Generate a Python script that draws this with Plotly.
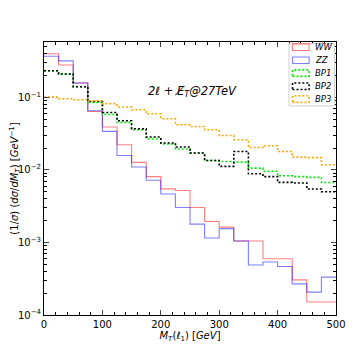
import plotly.graph_objects as go

# bin edges of M_T(l1) histograms [GeV]
bin_edges = [0, 25, 50, 75, 100, 125, 150, 175, 200, 225, 250,
             275, 300, 325, 350, 375, 400, 425, 450, 475, 500]

ww = [0.40, 0.28, 0.158, 0.064, 0.039, 0.0223, 0.0127, 0.0081, 0.00548, 0.00521,
      0.00304, 0.00195, 0.00163, 0.00105, 0.00105, 0.000596, 0.000596, 0.000305, 0.000151, 0.000151]
zz = [0.37, 0.319, 0.158, 0.0656, 0.034, 0.0158, 0.011, 0.0072, 0.00466, 0.00304,
      0.00179, 0.00115, 0.00155, 0.00105, 0.00049, 0.000537, 0.000467, 0.000269, 0.000207, 0.000333]
bp1 = [0.233, 0.21, 0.14, 0.085, 0.058, 0.0452, 0.0358, 0.0267, 0.0228, 0.0194,
       0.0171, 0.0135, 0.0131, 0.0128, 0.0106, 0.0096, 0.0083, 0.0081, 0.0079, 0.0067]
bp2 = [0.233, 0.21, 0.14, 0.088, 0.062, 0.0477, 0.037, 0.0284, 0.0235, 0.0207,
       0.0171, 0.0135, 0.0112, 0.018, 0.00887, 0.0081, 0.00673, 0.0066, 0.00545, 0.0050]
bp3 = [0.101, 0.096, 0.093, 0.090, 0.082, 0.0736, 0.0676, 0.0595, 0.0508, 0.042,
       0.0398, 0.0358, 0.0299, 0.0261, 0.0204, 0.0216, 0.018, 0.0150, 0.0148, 0.0118]

series_names = ["WW", "ZZ", "BP1", "BP2", "BP3"]

x_ticks = [0, 100, 200, 300, 400, 500]
y_ticks = [1e-4, 1e-3, 1e-2, 1e-1]
y_ticktext = ["10<sup>\u22124</sup>", "10<sup>\u22123</sup>", "10<sup>\u22122</sup>", "10<sup>\u22121</sup>"]

styles = {
    "WW": dict(color="rgba(255,0,0,0.5)", width=1.1, dash="solid"),
    "ZZ": dict(color="rgba(0,0,255,0.5)", width=1.1, dash="solid"),
    "BP1": dict(color="#00ee00", width=1.6, dash="2px,2px"),
    "BP2": dict(color="black", width=1.6, dash="2px,2px"),
    "BP3": dict(color="orange", width=1.6, dash="2px,2px"),
}

fig = go.Figure()
for name, vals in zip(series_names, [ww, zz, bp1, bp2, bp3]):
    fig.add_trace(go.Scatter(
        x=bin_edges, y=vals + [vals[-1]],
        mode="lines", line_shape="hv", name=name,
        line=styles[name], showlegend=False, hoverinfo="skip"))

# hand-made legend box (matplotlib style: open rectangles)
shapes = [dict(type="rect", xref="paper", yref="paper",
               x0=0.839, x1=0.995, y0=0.766, y1=0.994,
               line=dict(color="#d0d0d0", width=1), fillcolor="white", layer="above")]
annotations = []
legend_y = [0.981, 0.933, 0.886, 0.838, 0.791]
for name, ly in zip(series_names, legend_y):
    st = styles[name]
    shapes.append(dict(type="rect", xref="paper", yref="paper",
                       x0=0.851, x1=0.908, y0=ly - 0.012, y1=ly + 0.012,
                       line=dict(color=st["color"], width=st["width"], dash=st["dash"]),
                       fillcolor="rgba(0,0,0,0)", layer="above"))
    annotations.append(dict(xref="paper", yref="paper", x=0.922, y=ly,
                            text="<i>" + name + "</i>", showarrow=False,
                            xanchor="left", yanchor="middle",
                            font=dict(size=8.5, color="black")))

annotations.append(dict(xref="paper", yref="paper", x=0.51, y=0.855,
                        text="<i>2\u2113 + E\u0338<sub>T</sub>@27TeV</i>", showarrow=False,
                        font=dict(size=11.5, color="black")))

# the page body adds an 8px margin, so the figure is 8px smaller than the window
fig.update_layout(
    width=346, height=346,
    margin=dict(l=36, r=18, t=34, b=39, autoexpand=False),
    paper_bgcolor="white", plot_bgcolor="white",
    font=dict(family="DejaVu Sans", size=10, color="black"),
    shapes=shapes, annotations=annotations,
)
fig.update_xaxes(
    range=[0, 500], tickvals=x_ticks, ticks="inside", ticklen=5, tickwidth=1,
    showline=True, linecolor="black", linewidth=1, mirror="allticks",
    showgrid=False, zeroline=False, automargin=False,
    minor=dict(dtick=20, tick0=0, ticks="inside", ticklen=3, tickcolor="black"),
    title=dict(text="<i>M<sub>T</sub></i>(<i>\u2113</i><sub>1</sub>) [<i>GeV</i>]",
               font=dict(size=10), standoff=2),
    tickfont=dict(size=10),
)
minor_y = [k * 10.0 ** e for e in range(-4, 0) for k in range(2, 10)]
fig.update_yaxes(
    type="log", range=[-4, -0.236], tickvals=y_ticks, ticktext=y_ticktext,
    ticks="inside", ticklen=5, tickwidth=1,
    showline=True, linecolor="black", linewidth=1, mirror="allticks",
    showgrid=False, zeroline=False, automargin=False,
    minor=dict(tickvals=minor_y, ticks="inside", ticklen=3, tickcolor="black"),
    title=dict(text="(1/<i>\u03c3</i>) (<i>d\u03c3</i>/<i>dM<sub>T</sub></i>) [<i>GeV</i><sup>\u22121</sup>]",
               font=dict(size=10), standoff=6),
    tickfont=dict(size=10),
)

fig.write_html("out.html")
